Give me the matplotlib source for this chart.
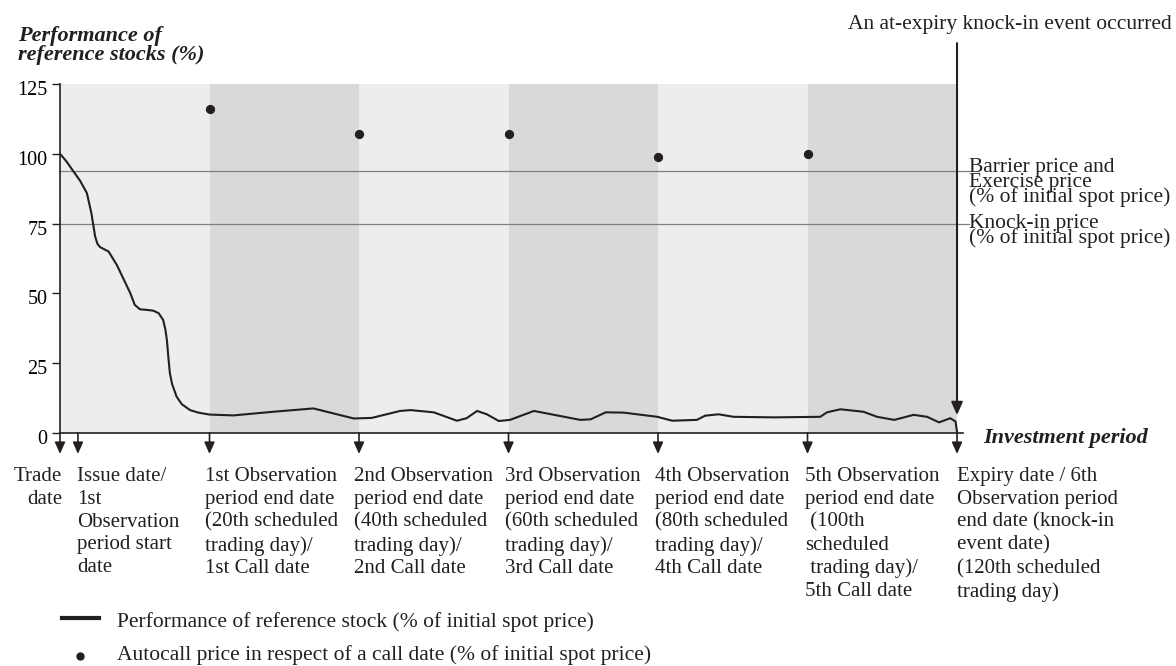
import matplotlib.pyplot as plt
from matplotlib.lines import Line2D
import matplotlib.transforms as mtransforms

plt.rcParams['font.family'] = ['Liberation Serif', 'DejaVu Serif']
plt.rcParams['font.size'] = 15.5

W, H = 1176, 666

# trading day vs performance (% of initial spot)
curve_days = [0, 0.8, 1.8, 2.7, 3.6, 4.2, 4.7, 5.0, 5.35, 6.5, 7.6, 9.4, 10.0, 10.7,
              11.6, 12.5, 13.2, 13.8, 14.1, 14.3, 14.5, 14.7, 15.0, 15.6, 16.3, 17.4,
              18.5, 20.0, 23.2, 28.5, 33.9, 39.3, 41.7, 45.5, 46.9, 50.0, 53.1, 54.4,
              55.8, 57.1, 58.7, 60.2, 63.4, 69.6, 71.0, 73.0, 75.4, 79.9, 81.9, 85.2,
              86.3, 88.1, 90.1, 95.5, 101.7, 102.6, 104.4, 107.5, 109.3, 111.6, 114.2,
              116.0, 117.6, 119.1, 119.8, 120.0]
curve_perf = [100, 97.5, 93.7, 90.3, 85.9, 78.7, 70.4, 67.8, 66.6, 65.0, 60.2, 50.1, 45.9, 44.3,
              44.1, 43.8, 42.9, 40.5, 37.0, 33.3, 27.0, 21.4, 17.5, 13.0, 10.3, 8.2,
              7.3, 6.6, 6.3, 7.6, 8.8, 5.2, 5.4, 7.9, 8.2, 7.4, 4.4, 5.3,
              7.9, 6.7, 4.3, 4.7, 7.9, 4.7, 4.9, 7.4, 7.3, 5.8, 4.4, 4.7,
              6.2, 6.7, 5.8, 5.6, 5.8, 7.4, 8.5, 7.6, 5.8, 4.7, 6.5,
              5.8, 3.8, 5.3, 4.1, 0.5]

call_days = [20, 40, 60, 80, 100]
autocall_price = [116, 107, 107, 99, 100]

barrier = 94
knock_in = 75

band_edges = [0, 20, 40, 60, 80, 100, 120]
event_days = [0, 2.4, 20, 40, 60, 80, 100, 120]

event_labels = [
    "Trade\ndate",
    "Issue date/\n1st\nObservation\nperiod start\ndate",
    "1st Observation\nperiod end date\n(20th scheduled\ntrading day)/\n1st Call date",
    "2nd Observation\nperiod end date\n(40th scheduled\ntrading day)/\n2nd Call date",
    "3rd Observation\nperiod end date\n(60th scheduled\ntrading day)/\n3rd Call date",
    "4th Observation\nperiod end date\n(80th scheduled\ntrading day)/\n4th Call date",
    "5th Observation\nperiod end date\n (100th\nscheduled\n trading day)/\n5th Call date",
    "Expiry date / 6th\nObservation period\nend date (knock-in\nevent date)\n(120th scheduled\ntrading day)",
]
label_x = [62, 77, 205, 354, 505, 655, 805, 957]

dark = '#231f20'

fig = plt.figure(figsize=(W / 100, H / 100), dpi=100)
ax = fig.add_axes([60 / W, 1 - 433 / H, 903 / W, 349 / H])

for i in range(len(band_edges) - 1):
    c = '#ededed' if i % 2 == 0 else '#d8d9db'
    ax.axvspan(band_edges[i], band_edges[i + 1], color=c, lw=0, zorder=0)

ax.plot([0, 121.6], [barrier, barrier], color='#7f7f7f', lw=0.9, clip_on=False, zorder=1)
ax.plot([0, 121.6], [knock_in, knock_in], color='#7f7f7f', lw=0.9, clip_on=False, zorder=1)

ax.plot(curve_days, curve_perf, color=dark, lw=1.5, zorder=3)
ax.scatter(call_days, autocall_price, s=32, color=dark, zorder=3)

ax.set_xlim(0, 120.8)
ax.set_ylim(0, 125)
ax.set_yticks([0, 25, 50, 75, 100, 125])
ax.set_xticks([])
ax.spines['top'].set_visible(False)
ax.spines['right'].set_visible(False)
for s in ['left', 'bottom']:
    ax.spines[s].set_color(dark)
    ax.spines[s].set_linewidth(1.2)
ax.tick_params(axis='y', length=6, width=1, color=dark, labelsize=14.5, pad=3)
shift = mtransforms.ScaledTranslation(0, -0.04, fig.dpi_scale_trans)
for lab in ax.get_yticklabels():
    lab.set_transform(lab.get_transform() + shift)

# arrows below the axis
for d in event_days:
    ax.annotate('', xy=(d, -0.06), xytext=(d, 0), xycoords=('data', 'axes fraction'),
                textcoords=('data', 'axes fraction'), annotation_clip=False,
                arrowprops=dict(arrowstyle='-|>,head_length=0.45,head_width=0.2',
                                color=dark, lw=1.2, shrinkA=0, shrinkB=0))

# knock-in event arrow at expiry
ax.annotate('', xy=(120, 6.4), xytext=(120, 1.117), xycoords='data',
            textcoords=('data', 'axes fraction'), annotation_clip=False,
            arrowprops=dict(arrowstyle='-|>,head_length=0.5,head_width=0.22',
                            color=dark, lw=1.5, shrinkA=0, shrinkB=0))


def fx(x):
    return x / W


def fy(y):
    return 1 - y / H


for i, (lab, x) in enumerate(zip(event_labels, label_x)):
    ha = 'right' if i == 0 else 'left'
    fig.text(fx(x), fy(467), lab, ha=ha, va='top', fontsize=15, linespacing=1.27, color=dark)

fig.text(fx(18), fy(60), "Performance of\nreference stocks (%)", ha='left', va='baseline',
         fontweight='bold', fontstyle='italic', fontsize=16, linespacing=0.9, color=dark)
fig.text(fx(983), fy(443), "Investment period", ha='left', va='baseline',
         fontweight='bold', fontstyle='italic', fontsize=16, color=dark)
fig.text(fx(1172), fy(29), "An at-expiry knock-in event occurred", ha='right', va='baseline',
         color=dark)
fig.text(fx(969), fy(202), "Barrier price and\nExercise price\n(% of initial spot price)",
         ha='left', va='baseline', linespacing=0.7, color=dark)
fig.text(fx(969), fy(243), "Knock-in price\n(% of initial spot price)",
         ha='left', va='baseline', linespacing=0.7, color=dark)

# legend
fig.add_artist(Line2D([fx(62), fx(99)], [fy(618), fy(618)], color=dark, lw=3))
fig.add_artist(Line2D([fx(80)], [fy(656)], color=dark, marker='o', markersize=5, lw=0))
fig.text(fx(117), fy(627), "Performance of reference stock (% of initial spot price)",
         ha='left', va='baseline', color=dark)
fig.text(fx(117), fy(660), "Autocall price in respect of a call date (% of initial spot price)",
         ha='left', va='baseline', color=dark)

fig.savefig('out.png', dpi=100)
